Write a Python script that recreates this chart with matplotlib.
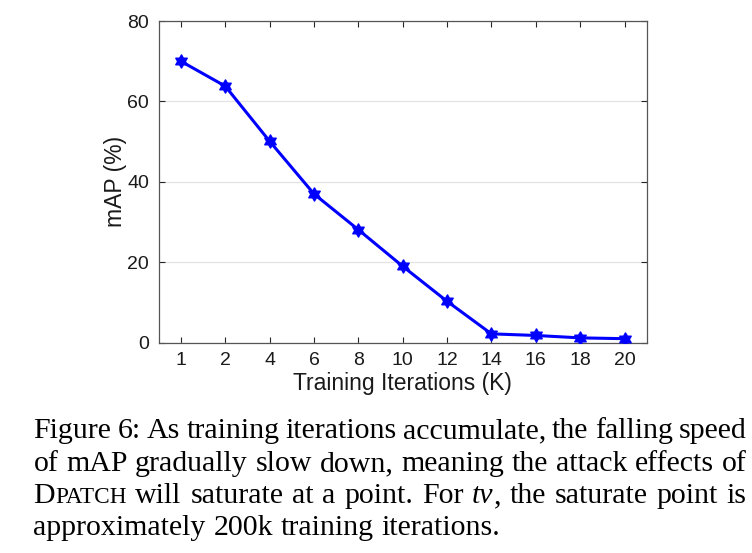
import numpy as np
import matplotlib
matplotlib.use("Agg")
import matplotlib.pyplot as plt
from matplotlib.path import Path

# ---- data ----
iter_labels = ['1', '2', '4', '6', '8', '10', '12', '14', '16', '18', '20']
map_values = [70.0, 63.8, 50.1, 37.0, 28.1, 19.0, 10.3, 2.2, 1.8, 1.2, 1.0]
y_ticks = [0, 20, 40, 60, 80]
x_label = 'Training Iterations (K)'
y_label = 'mAP (%)'

W, H = 752, 553
plt.rcParams['font.family'] = ['Liberation Sans', 'DejaVu Sans']

fig = plt.figure(figsize=(W / 100, H / 100), dpi=100)
left, right, top, bottom = 158.7, 646.7, 21.0, 342.7
ax = fig.add_axes([left / W, 1 - bottom / H, (right - left) / W, (bottom - top) / H])

# hexagram marker shape
ang = np.pi / 2 + np.arange(12) * np.pi / 6
rad = np.where(np.arange(12) % 2 == 0, 1.0, 1 / np.sqrt(3))
verts = np.column_stack([rad * np.cos(ang), rad * np.sin(ang)])
verts = np.vstack([verts, verts[:1]])
hexagram = Path(verts, [Path.MOVETO] + [Path.LINETO] * 11 + [Path.CLOSEPOLY])

x = np.arange(1, len(iter_labels) + 1)
ax.plot(x, map_values, color='#0000ff', lw=2.2, marker=hexagram, ms=9.5,
        markerfacecolor='#0000ff', markeredgecolor='#0000ff', zorder=3)

ax.set_xlim(0.5, len(iter_labels) + 0.5)
ax.set_ylim(0, 80)
ax.set_xticks(x)
ax.set_xticklabels(iter_labels)
ax.set_yticks(y_ticks)
ax.yaxis.grid(True, color='#e3e3e3', lw=0.9)
ax.set_axisbelow(True)
ax.tick_params(direction='in', length=4, width=0.8, colors='#262626',
               labelsize=14, top=True, right=True, pad=7)
for lab in ax.get_xticklabels() + ax.get_yticklabels():
    lab.set_color('#1a1a1a')
for s in ax.spines.values():
    s.set_color('#555555')
    s.set_linewidth(0.9)
ax.set_xlabel(x_label, fontsize=16.5, color='#1a1a1a', labelpad=2)
ax.set_ylabel(y_label, fontsize=16.5, color='#1a1a1a', labelpad=0)

# ---- caption (justified, serif) ----
fs = 21.5
serif = ['Liberation Serif', 'DejaVu Serif']
lines = [
    [[('Figure', {})], [('6:', {})], [('As', {})], [('training', {})], [('iterations', {})],
     [('accumulate,', {})], [('the', {})], [('falling', {})], [('speed', {})]],
    [[('of', {})], [('mAP', {})], [('gradually', {})], [('slow', {})], [('down,', {})],
     [('meaning', {})], [('the', {})], [('attack', {})], [('effects', {})], [('of', {})]],
    [[('D', {}), ('PATCH', {'fontsize': fs * 0.78})], [('will', {})], [('saturate', {})],
     [('at', {})], [('a', {})], [('point.', {})], [('For', {})],
     [('tv', {'fontstyle': 'italic'}), (',', {})], [('the', {})], [('saturate', {})],
     [('point', {})], [('is', {})]],
    [[('approximately', {})], [('200k', {})], [('training', {})], [('iterations.', {})]],
]
baselines = [438.3, 470.9, 503.3, 535.4]
cap_left, cap_right = 33.5, 746.5

fig.canvas.draw()
renderer = fig.canvas.get_renderer()


def width_of(txt, **kw):
    t = fig.text(0, 0, txt, fontsize=kw.pop('fontsize', fs), family=serif, **kw)
    w = t.get_window_extent(renderer).width
    t.remove()
    return w


space_w = width_of('a a') - width_of('aa')

for li, (line, yb) in enumerate(zip(lines, baselines)):
    word_ws = []
    for word in line:
        ww = 0
        for seg, kw in word:
            ww += width_of(seg, **dict(kw))
        word_ws.append(ww)
    total = sum(word_ws)
    if li < len(lines) - 1:
        gap = (cap_right - cap_left - total) / (len(line) - 1)
    else:
        gap = space_w
    xpos = cap_left
    for word, ww in zip(line, word_ws):
        xs = xpos
        for seg, kw in word:
            kw = dict(kw)
            size = kw.pop('fontsize', fs)
            fig.text(xs / W, 1 - yb / H, seg, fontsize=size, family=serif,
                     va='baseline', ha='left', color='black', **kw)
            xs += width_of(seg, fontsize=size, **kw)
        xpos += ww + gap

fig.savefig('out.png', dpi=100)
